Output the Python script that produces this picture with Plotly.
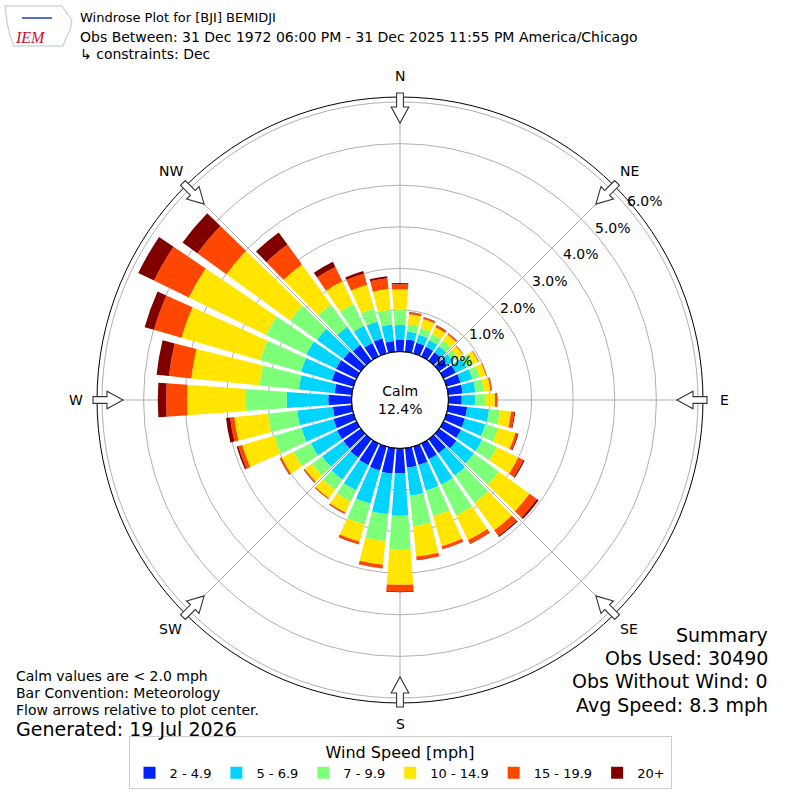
import math
import plotly.graph_objects as go

# wind directions (degrees, meteorological) and speed bins
directions = list(range(0, 360, 10))
speed_bins = ["2 - 4.9", "5 - 6.9", "7 - 9.9", "10 - 14.9", "15 - 19.9", "20+"]
bin_colors = ["#0022ff", "#00d4ff", "#7dff7a", "#ffe500", "#ff4700", "#800000"]

# frequency (%) per direction for each speed bin
freq_2_5 = [0.28, 0.30, 0.27, 0.26, 0.25, 0.24, 0.33, 0.35, 0.35, 0.32, 0.46, 0.46,
            0.47, 0.51, 0.42, 0.42, 0.46, 0.47, 0.60, 0.62, 0.60, 0.58, 0.55, 0.52,
            0.52, 0.50, 0.46, 0.56, 0.42, 0.54, 0.55, 0.52, 0.47, 0.36, 0.38, 0.26]
freq_5_7 = [0.36, 0.19, 0.20, 0.18, 0.18, 0.18, 0.29, 0.30, 0.31, 0.32, 0.53, 0.51,
            0.56, 0.52, 0.66, 0.68, 0.64, 0.68, 1.02, 0.98, 0.83, 0.67, 0.65, 0.63,
            0.70, 0.80, 0.86, 1.00, 0.86, 0.77, 0.79, 0.78, 0.53, 0.46, 0.42, 0.40]
freq_7_10 = [0.36, 0.18, 0.17, 0.16, 0.17, 0.14, 0.18, 0.18, 0.20, 0.24, 0.26, 0.32,
             0.40, 0.74, 0.81, 0.82, 0.64, 0.73, 0.82, 0.65, 0.52, 0.30, 0.30, 0.30,
             0.46, 0.68, 0.71, 0.98, 0.95, 1.02, 1.08, 0.80, 0.67, 0.58, 0.32, 0.36]
freq_10_15 = [0.50, 0.24, 0.22, 0.18, 0.18, 0.14, 0.13, 0.15, 0.16, 0.24, 0.27, 0.43,
              0.57, 0.91, 0.81, 0.66, 0.75, 0.74, 0.84, 0.57, 0.43, 0.29, 0.25, 0.21,
              0.32, 0.80, 0.81, 1.42, 1.65, 1.97, 2.06, 1.89, 1.19, 0.61, 0.60, 0.50]
freq_15_20 = [0.12, 0.05, 0.04, 0.05, 0.03, 0.02, 0.02, 0.02, 0.03, 0.05, 0.08, 0.06,
              0.14, 0.22, 0.17, 0.10, 0.07, 0.08, 0.16, 0.08, 0.06, 0.03, 0.03, 0.03,
              0.04, 0.10, 0.10, 0.50, 0.54, 0.69, 0.93, 0.86, 0.59, 0.38, 0.28, 0.26]
freq_20_up = [0.03, 0.01, 0.01, 0.01, 0.01, 0.00, 0.00, 0.00, 0.01, 0.01, 0.02, 0.02,
              0.03, 0.05, 0.03, 0.01, 0.01, 0.01, 0.02, 0.01, 0.01, 0.01, 0.00, 0.01,
              0.01, 0.04, 0.10, 0.20, 0.30, 0.23, 0.42, 0.44, 0.36, 0.14, 0.06, 0.05]
series = [freq_2_5, freq_5_7, freq_7_10, freq_10_15, freq_15_20, freq_20_up]

radial_ticks = [0, 1, 2, 3, 4, 5, 6]
compass = ["N", "NE", "E", "SE", "S", "SW", "W", "NW"]
calm_pct = 12.4

# pixel geometry of the polar area on the 800x800 page
CX, CY, R_OUT, R_HOLE = 400, 400, 303, 48.4
R_MAX = 6.12


def px(x, y):
    return x / 800, 1 - y / 800


def poly(points, close=True):
    s = "M " + " L ".join(f"{px(a, b)[0]:.5f},{px(a, b)[1]:.5f}" for a, b in points)
    return s + (" Z" if close else "")


def label(x_px, y_px, text, size, anchor="center", **font):
    x, y = px(x_px, y_px)
    return dict(x=x, y=y, xref="paper", yref="paper", text=text, showarrow=False,
                xanchor=anchor, yanchor="middle", font=dict(size=size, **font))


fig = go.Figure()
for name, vals, col in zip(speed_bins, series, bin_colors):
    fig.add_trace(go.Barpolar(
        r=vals, theta=directions, width=8.2, name=name,
        marker=dict(color=col, line=dict(width=0)),
    ))

# black circle around the calm hole
fig.add_trace(go.Scatterpolar(
    r=[0] * 361, theta=list(range(361)), mode="lines",
    line=dict(color="black", width=1.2), showlegend=False, hoverinfo="skip",
))

annotations = []
shapes = []

# radial tick labels along the NE diagonal
for i, t in enumerate(radial_ticks):
    annotations.append(label(455 + 31.6 * i, 361 - 26.7 * i, f"{t:.1f}%", 14))

# compass labels and hollow flow arrows
for k, lab in enumerate(compass):
    a = math.radians(k * 45)
    sx, sy = math.sin(a), -math.cos(a)
    annotations.append(label(CX + 324 * sx, CY + 324 * sy, lab, 14))
    nx, ny = -sy, sx

    def pt(r, w):
        return (CX + r * sx + w * nx, CY + r * sy + w * ny)

    arrow = [pt(307, -3.4), pt(293, -3.4), pt(293, -8.8), pt(277, 0),
             pt(293, 8.8), pt(293, 3.4), pt(307, 3.4)]
    shapes.append(dict(type="path", path=poly(arrow), xref="paper", yref="paper",
                       fillcolor="white", line=dict(color="#333333", width=1.1)))

# calm in the middle
annotations.append(label(CX, CY, f"Calm<br>{calm_pct}%", 14))

# header
header = ["Windrose Plot for [BJI] BEMIDJI",
          "Obs Between: 31 Dec 1972 06:00 PM - 31 Dec 2025 11:55 PM America/Chicago",
          "\u21b3 constraints: Dec"]
for txt, yy, fs in zip(header, [18, 37, 54], [13, 14, 14]):
    annotations.append(label(78, yy, txt, fs, anchor="left"))

# footer left
notes = ["Calm values are < 2.0 mph", "Bar Convention: Meteorology",
         "Flow arrows relative to plot center."]
for txt, yy in zip(notes, [676, 693, 710]):
    annotations.append(label(14, yy, txt, 14, anchor="left"))
annotations.append(label(14, 729, "Generated: 19 Jul 2026", 19, anchor="left"))

# summary right
summary = ["Summary", "Obs Used: 30490", "Obs Without Wind: 0", "Avg Speed: 8.3 mph"]
for txt, yy in zip(summary, [635, 658, 681, 705]):
    annotations.append(label(770, yy, txt, 19, anchor="right"))

# rough IEM logo
logo = [(5, 6), (62, 6), (66, 12), (72, 20), (70, 30), (66, 38), (63, 46), (14, 46),
        (10, 36), (7, 22), (5, 6)]
shapes.append(dict(type="path", xref="paper", yref="paper", path=poly(logo),
                   line=dict(color="#b8c4d6", width=1)))
shapes.append(dict(type="path", xref="paper", yref="paper",
                   path=poly([(22, 18), (52, 18)], close=False),
                   line=dict(color="#1f3fbf", width=1.5)))
annotations.append(label(30, 38, "<i>IEM</i>", 16, color="#c8102e", family="Liberation Serif"))

dom = [(CX - R_OUT) / 800, (CX + R_OUT) / 800]
fig.update_layout(
    width=800, height=800,
    margin=dict(l=0, r=0, t=0, b=0, autoexpand=False),
    paper_bgcolor="white",
    font=dict(family="DejaVu Sans", size=13, color="black"),
    polar=dict(
        domain=dict(x=dom, y=dom),
        hole=R_HOLE / R_OUT,
        bgcolor="white",
        barmode="stack",
        radialaxis=dict(range=[0, R_MAX], tickvals=radial_ticks[1:], showticklabels=False,
                        ticks="", showline=False, gridcolor="#b0b0b0", gridwidth=1,
                        layer="above traces"),
        angularaxis=dict(rotation=90, direction="clockwise", tickvals=list(range(0, 360, 45)),
                         showticklabels=False, ticks="", gridcolor="#b0b0b0", gridwidth=1,
                         linecolor="black", linewidth=1, layer="above traces"),
    ),
    legend=dict(orientation="h", x=0.5, xanchor="center", y=1 - 736 / 800, yanchor="top",
                bordercolor="#cccccc", borderwidth=1, bgcolor="white",
                title=dict(text="Wind Speed [mph]", side="top center"),
                font=dict(size=13)),
    annotations=annotations,
    shapes=shapes,
)

fig.write_html("out.html", config={"displayModeBar": False},
               post_script="document.body.style.margin='0';")
